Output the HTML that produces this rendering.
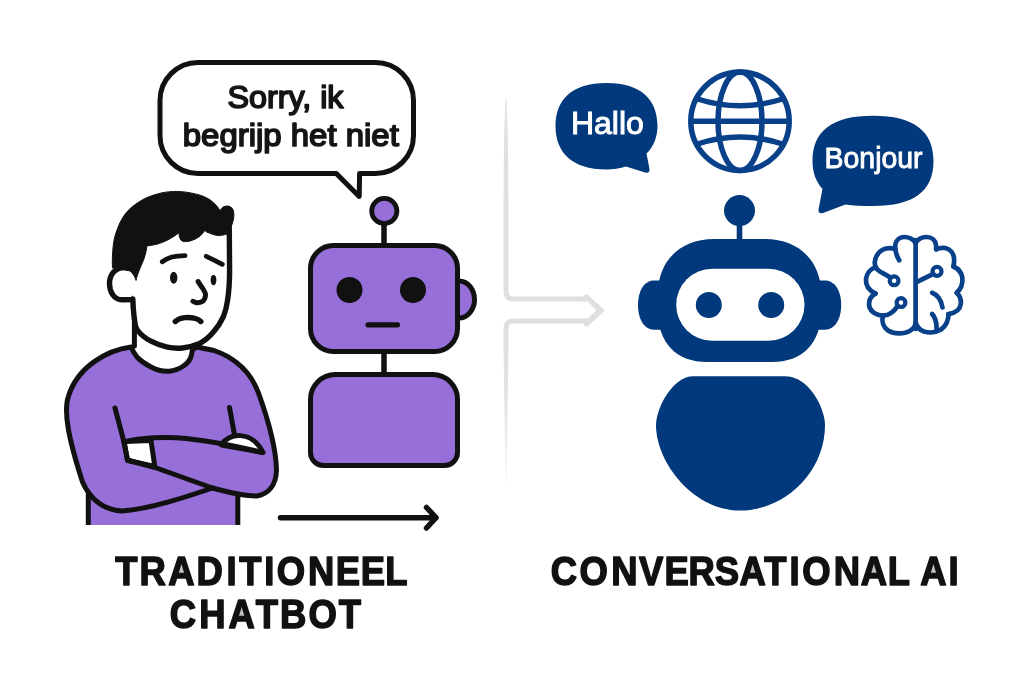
<!DOCTYPE html>
<html lang="nl">
<head>
<meta charset="utf-8">
<title>Traditioneel chatbot vs Conversational AI</title>
<style>
  html, body { margin: 0; padding: 0; background: #ffffff; }
  body { width: 1024px; height: 683px; overflow: hidden; font-family: "Liberation Sans", sans-serif; }
  svg { display: block; will-change: transform; transform: translateZ(0); }
  text { font-family: "Liberation Sans", sans-serif; }
</style>
</head>
<body>
<svg width="1024" height="683" viewBox="0 0 1024 683">
  <defs>
    <linearGradient id="divtop" gradientUnits="userSpaceOnUse" x1="0" y1="99" x2="0" y2="220">
      <stop offset="0" stop-color="#e6e6e6"/>
      <stop offset="0.5" stop-color="#dfdfdf"/>
      <stop offset="1" stop-color="#dedfdf"/>
    </linearGradient>
    <linearGradient id="divbot" gradientUnits="userSpaceOnUse" x1="0" y1="345" x2="0" y2="484">
      <stop offset="0" stop-color="#dedfdf"/>
      <stop offset="0.35" stop-color="#e2e2e2"/>
      <stop offset="1" stop-color="#f6f6f6"/>
    </linearGradient>
  </defs>
  <rect x="0" y="0" width="1024" height="683" fill="#ffffff"/>

  <!-- ===== central divider with arrow ===== -->
  <g id="divider">
    <path d="M505.400 99 L506.400 99 L507.700 127 L508.300 170 L508.500 220 H503.500 L503.700 170 L504.300 127 Z" fill="url(#divtop)"/>
    <path d="M503.500 345 H508.500 L506.600 484 H505.600 Z" fill="url(#divbot)"/>
    <path d="M506 220 V291.500 Q506 299 513.500 299 H586" fill="none" stroke="#dedfdf" stroke-width="5" stroke-linejoin="round" stroke-linecap="butt"/>
    <path d="M506 345 V328.500 Q506 321 513.500 321 H586" fill="none" stroke="#dedfdf" stroke-width="5" stroke-linejoin="round" stroke-linecap="butt"/>
    <path d="M583 296.500 L585 294.700 Q586.500 293.800 588.300 295 L604.800 310.600 L588.300 326 Q586.500 327 585 326 L583 323.500 V318.500 H588.100 L596.300 310.600 L588.100 301.500 H583 Z" fill="#dedfdf"/>
  </g>

  <!-- ===== LEFT: speech bubble ===== -->
  <g id="bubble-left">
    <path d="M198 62.500 H375.500 A38 38 0 0 1 413.500 100.500 V135.500 A38 38 0 0 1 375.500 173.500 H359.600 L359.200 196.500 L336.300 173.500 H198 A38 38 0 0 1 160 135.500 V100.500 A38 38 0 0 1 198 62.500 Z"
          fill="#ffffff" stroke="#111111" stroke-width="5" stroke-linejoin="round"/>
    <text x="285.500" y="108" text-anchor="middle" font-size="32" fill="#151515" stroke="#151515" stroke-width="1.7" stroke-linejoin="round" textLength="116" lengthAdjust="spacingAndGlyphs">Sorry, ik</text>
    <text x="290.800" y="145.700" text-anchor="middle" font-size="32" fill="#151515" stroke="#151515" stroke-width="1.7" stroke-linejoin="round" textLength="216" lengthAdjust="spacingAndGlyphs">begrijp het niet</text>
  </g>

  <!-- ===== LEFT: man ===== -->
  <g id="man" stroke-linecap="round" stroke-linejoin="round">
    <!-- torso -->
    <path d="M88.300 525 V400 H237.800 V525" fill="#976fd9" stroke="#111111" stroke-width="5" stroke-linecap="butt"/>
    <!-- neck -->
    <path d="M134 318 L133 348 L160 372 L195 350 L208 335 Z" fill="#ffffff" stroke="none"/>
    <path d="M134.400 314 V346" fill="none" stroke="#111111" stroke-width="5"/>
    <!-- shoulders + arms silhouette -->
    <path d="M131 347
             C108 350 78 366 68.500 396
             C63 412 69 440 82.500 482
             C92 503 106 510 122 511
             C150 509 186 497 212.500 488
             C224 491 240 496 257 496
             C268 494 276 486 276.500 470
             C276 450 269 422 258.500 393
             C251 373 236 358 214 350.500
             L197 347
             L192.500 349.500
             C192 353 191.500 355.500 190.500 358
             C189 361.500 186.500 364 183.500 366
             C179 369 174 370.800 169 371.200
             C163 371.500 156.500 370 151 367
             C145.500 364 140.500 361 137 357
             C134.500 354 132.800 351 131 347 Z"
          fill="#976fd9" stroke="#111111" stroke-width="5"/>
    <!-- right hand (viewer right) -->
    <path d="M221.500 445 C228 432.500 252 430 263 452.500 Z" fill="#ffffff" stroke="#111111" stroke-width="5"/>
    <!-- left hand (viewer left) -->
    <path d="M124 441.500 L151 440.500 L154.800 466.500 L127.500 460.500 Z" fill="#ffffff" stroke="#111111" stroke-width="5"/>
    <!-- arm lines -->
    <path d="M115 408 L124 442 L127.500 460 L155 467.500 L212.500 488" fill="none" stroke="#111111" stroke-width="5"/>
    <path d="M124 442 C140 438 165 436 186 438.500 C210 441 240 447 262.500 452.500" fill="none" stroke="#111111" stroke-width="5"/>
    <path d="M229.500 407.500 L234.500 435" fill="none" stroke="#111111" stroke-width="5"/>

    <!-- ear -->
    <path d="M134 299.500 L122 299.800 C114 299.500 109.500 292 109.500 283.500 C109.500 275 115 267.500 124 267.500 L136 270 L136 290 Z" fill="#ffffff" stroke="#111111" stroke-width="5.400"/>
    <!-- face -->
    <path d="M132.800 299 L135.500 326 C141 337 158 348 180 348.200 C200 347.500 218 335 225 308 L229 281 L230 231 L228 205 L180 195 L125 230 L128 270 Z" fill="#ffffff" stroke="none"/>
    <path d="M132.800 299 C133 304 133.300 309 133.800 314 C134.300 318.500 134.800 322.500 135.500 326 C136 327.500 136.600 328.800 137.300 330 C141 335 145.500 338.500 151 341.200 C156 343.800 161.500 346 167.400 347.200 C172.500 348.200 177.500 348.500 182.500 348 C188 347.500 193.500 346.200 198.900 343.800 C204.500 341 209.500 337 213.900 331.400 C217.800 327 221 322 223.500 316.400 C225.500 311.500 226.800 306 227.600 300 C228.700 293 229.500 282.500 229.600 272 C229.500 258 229.400 246 229.300 230" fill="none" stroke="#111111" stroke-width="5.400"/>
    <!-- hair -->
    <path d="M136 280
             C138 272 142 264 143.900 259
             C145.500 254 146.500 250 146.900 245.900
             C151 245.500 155 244.800 158.600 243.700
             C163 242.300 167 240.500 170.300 238.600
             C173.500 236.700 176.500 234.500 179.100 232.700
             C179 235 179.300 236.500 179.800 237.900
             C180.500 240 182 241.300 183.500 241.500
             C186 241.800 188.500 241.500 190.800 240.800
             C194 239.800 197 238.300 199.600 236.400
             C201.500 235 203.300 232.500 204.700 230.500
             C205.800 231.500 207 232.200 208.400 232.700
             C211 233.800 214 235 217.200 235.400
             C220 235.700 223 235.200 226 234.200
             L230.500 233.500
             L231.600 225.400
             C232.800 222 233.700 219.500 233.800 216.600
             C234 213.500 233.700 211 232.800 209.300
             C231.700 207.500 230 206.300 228.200 206.100
             C226 205.900 224.300 206.300 223 207.100
             C221.800 208 221 209.300 220.100 210.800
             C219.300 209.300 218.300 207.800 217.200 206.400
             C215 203.800 212.500 201.700 209.900 199.800
             C205.500 196.800 200.500 195 195.200 193.900
             C189 192.300 182.500 191.500 176.200 191.400
             C171 191.400 166 192 161.500 192.900
             C156.500 194 151.500 195.600 146.900 197.600
             C140.500 200.500 134.500 204.500 129.300 209.300
             C124.500 214 120.500 220.500 117.600 228.300
             C115.300 234 113.800 240 113.200 245.900
             C112.500 253 112 261 112.500 267.900
             C115 267.600 117 267.600 119 267.900
             C123 268.400 126.500 269.300 129.300 270.800
             C132 272.300 134 275 136 280 Z"
          fill="#111111" stroke="#111111" stroke-width="1"/>
    <!-- eyebrows -->
    <path d="M162.300 261.700 C165.500 259.500 168.500 258 171.800 257 C176 256 180.500 255.700 185 255.600" fill="none" stroke="#111111" stroke-width="4.800"/>
    <path d="M206.300 256.300 C211 258.500 217 261.500 222.300 264.300" fill="none" stroke="#111111" stroke-width="4.800"/>
    <!-- eyes -->
    <ellipse cx="173.700" cy="277.800" rx="3.700" ry="6" fill="#111111"/>
    <ellipse cx="213.500" cy="280" rx="2.900" ry="5.200" fill="#111111"/>
    <!-- nose -->
    <path d="M198.100 281.500 C199.500 284 201 286 202.500 288.100 C204.500 291 205.800 293 205.500 295.400 C205.300 298 204.500 300 202.500 301.300 C200.500 302.500 198.500 302.800 196.700 302.700 C195.300 302.500 194 302 193 301.300" fill="none" stroke="#111111" stroke-width="5"/>
    <!-- mouth -->
    <path d="M175.300 321.500 C177.500 319.300 181 318 185 317.600 C189 317.400 192.500 317.700 195.500 318.500 C198 319.200 199.800 320.200 200.800 321.500" fill="none" stroke="#111111" stroke-width="5.400"/>
  </g>

  <!-- ===== LEFT: purple robot ===== -->
  <g id="robot-left">
    <ellipse cx="459" cy="299.500" rx="15.500" ry="18.500" fill="#976fd9" stroke="#111111" stroke-width="5"/>
    <path d="M384 224 V245" stroke="#111111" stroke-width="5.500" fill="none"/>
    <circle cx="384.300" cy="211" r="12.600" fill="#976fd9" stroke="#111111" stroke-width="4.800"/>
    <rect x="310.500" y="245.500" width="147" height="106" rx="23" ry="23" fill="#976fd9" stroke="#111111" stroke-width="5"/>
    <circle cx="349.500" cy="290" r="13" fill="#111111"/>
    <circle cx="413" cy="290" r="13" fill="#111111"/>
    <path d="M368 324.800 H397.500" stroke="#111111" stroke-width="5.200" stroke-linecap="round" fill="none"/>
    <path d="M384 354 V372" stroke="#111111" stroke-width="5.500" fill="none"/>
    <path d="M335.500 374.500 H432.500 A25 25 0 0 1 457.500 399.500 V452.500 A13 13 0 0 1 444.500 465.500 H323.500 A13 13 0 0 1 310.500 452.500 V399.500 A25 25 0 0 1 335.500 374.500 Z"
          fill="#976fd9" stroke="#111111" stroke-width="5"/>
  </g>

  <!-- ===== LEFT: arrow ===== -->
  <g id="arrow-left" fill="none" stroke="#111111" stroke-width="5.500" stroke-linecap="round" stroke-linejoin="round">
    <path d="M280.500 517.700 H435.500"/>
    <path d="M426.500 507.500 L436 517.700 L426.500 528"/>
  </g>

  <!-- ===== labels ===== -->
  <!-- grey counters of the letter A (as in the artwork) -->
  <g id="a-counters">
    <polygon points="181.4,560.4 177.2,573.6 185.5,573.6" fill="#c2c2c2"/>
    <polygon points="241.7,603.4 237.5,616.6 245.8,616.6" fill="#c2c2c2"/>
    <polygon points="752.6,560.4 748.4,573.6 756.7,573.6" fill="#c2c2c2"/>
    <polygon points="873.8,560.4 869.7,573.6 878.0,573.6" fill="#c2c2c2"/>
    <polygon points="933.4,560.4 929.2,573.6 937.5,573.6" fill="#c2c2c2"/>
  </g>

  <g id="labels" font-weight="bold" font-size="40.500" fill="#111111" stroke="#111111" stroke-width="1.500" stroke-linejoin="round" transform="scale(0.9 1)">
    <text y="584.600" x="128.2 155.1 186.9 218.4 251.7 265.9 293.6 307.5 342.2 373.1 400.7 428.2">TRADITIONEEL</text>
    <text y="627.600" x="188.6 221.5 253.9 284.3 311.2 342.7 376.4">CHATBOT</text>
    <text y="584.600" x="611.9 643.9 679.3 710.0 738.4 764.9 794.1 821.6 849.3 877.3 891.5 926.4 956.3 986.5 1011.0 1022.5 1053.9">CONVERSATIONAL AI</text>
  </g>

  <!-- ===== RIGHT: Hallo bubble ===== -->
  <g id="bubble-hallo">
    <path d="M606.500 83 C641.500 83 657.500 100 657.500 126 C657.500 137 653.500 147 646.500 153.500 L649.500 169 C650 172 648 173.500 645 172.500 L626 166.500 C620 168.500 613 169.500 606.500 169.500 C571.500 169.500 555.500 152 555.500 126 C555.500 100 571.500 83 606.500 83 Z" fill="#01397c"/>
    <text x="607.400" y="134.300" text-anchor="middle" font-size="31.500" fill="#ffffff" stroke="#ffffff" stroke-width="1" textLength="73" lengthAdjust="spacingAndGlyphs">Hallo</text>
  </g>

  <!-- ===== RIGHT: globe ===== -->
  <g id="globe" fill="none" stroke="#08408a" stroke-width="5.500">
    <circle cx="740" cy="121.300" r="49.200"/>
    <ellipse cx="740" cy="121.300" rx="22" ry="49.200"/>
    <path d="M691 121.300 H789"/>
    <path d="M697.500 99 Q740 112.500 782.500 99"/>
    <path d="M697.500 144 Q740 130 782.500 144"/>
  </g>

  <!-- ===== RIGHT: Bonjour bubble ===== -->
  <g id="bubble-bonjour">
    <path d="M873 115.700 C914 115.700 933.500 131 933.500 161 C933.500 191 914 206 873 206 C862 206 853 205.500 845.500 204.500 L823 213 C820 214 818 212.500 818.500 209.500 L822.500 189 C815.500 181 812.500 172 812.500 161 C812.500 131 832 115.700 873 115.700 Z" fill="#01397c"/>
    <text x="873.600" y="168.200" text-anchor="middle" font-size="29" fill="#ffffff" stroke="#ffffff" stroke-width="0.900" textLength="98" lengthAdjust="spacingAndGlyphs">Bonjour</text>
  </g>

  <!-- ===== RIGHT: brain ===== -->
  <g id="brain" fill="none" stroke="#08408a" stroke-width="4.700" stroke-linecap="round" stroke-linejoin="round">
    <path d="M915.600 240 V329"/>
    <!-- left hemisphere -->
    <path d="M915.600 243 C913 239 909 237 904.300 237 C899 237 895.200 241 895.200 247 C895.200 252 897 256.500 899.200 260.200"/>
    <path d="M895.200 248.700 C891 248 888 248.200 886.200 248.500 C880 250 875.600 255 874.800 262 C874.500 266 876 269 879.700 271.400 C883 273.500 887 275 890.500 277.800"/>
    <path d="M875.200 267.500 C870 269 866.600 274 866 279 C865.500 285 869 290.500 875.600 293.600"/>
    <path d="M875.600 293.600 C871 296 869 300 869 304 C869 310 874 315 883 315.700 C890 315.500 894.500 311 897.800 305.800"/>
    <path d="M883 315.700 C881.500 321 883 327 888 330.500 C893 333.500 900 334 906 332.500 C911 331 915 327.500 915.700 323"/>
    <circle cx="894.100" cy="280.800" r="4.400" stroke-width="4.200"/>
    <circle cx="901" cy="302.600" r="4.400" stroke-width="4.200"/>
    <!-- right hemisphere -->
    <path d="M915.600 243 C918 239 922 237 926.400 237 C932 237 935.400 240.500 936 245 C936.200 246.500 936.200 248 936.200 249.300"/>
    <path d="M936.200 249.300 C939 248 942 247.600 945.200 248 C950 249 953.400 253 954 258 C954.300 261 954 264 953.400 266.500"/>
    <path d="M953.400 266.500 C958 268.500 961.600 272.500 962.300 277.500 C963 283.500 961 289 956.700 292.800"/>
    <path d="M956.700 292.800 C960 296 961.300 300 960.800 304 C960 309.500 955 313 948.500 314.100"/>
    <path d="M948.500 314.100 C948.500 320 946 326 941 329.500 C936 332.500 929 333 924 331.500 C919.500 330 916.500 326.500 915.700 322"/>
    <circle cx="937" cy="271.400" r="4.500" stroke-width="4.200"/>
    <path d="M933.300 273.800 L916 282.300"/>
    <path d="M932.100 292.800 C937 294.500 941.500 300 942.500 307.500"/>
    <path d="M932.100 314 C935 317 936.600 322 936.600 329"/>
  </g>

  <!-- ===== RIGHT: blue robot ===== -->
  <g id="robot-right" fill="#01397c">
    <circle cx="739.500" cy="210.600" r="15.500"/>
    <rect x="736.700" y="215" width="5.600" height="30"/>
    <!-- ears -->
    <path d="M664 280.400 H654 C644 280.400 638 291 638 305 C638 319 644 329.700 654 329.700 H664 Z"/>
    <path d="M815 280.400 H825 C835 280.400 841.200 291 841.200 305 C841.200 319 835 329.700 825 329.700 H815 Z"/>
    <!-- head -->
    <path d="M714 239 H765 C800 239 821.500 262 821.500 296 V308 C821.500 344 802 362 772 362 H707 C677 362 657.500 344 657.500 308 V296 C657.500 262 679 239 714 239 Z"/>
    <rect x="676.200" y="268.700" width="128.300" height="72" rx="36" ry="36" fill="#ffffff"/>
    <circle cx="708.800" cy="305" r="13"/>
    <circle cx="771.200" cy="305" r="13"/>
    <!-- body -->
    <path d="M692.500 376.300 H785 C800 376.500 812 388 820 405 C823 412 825 419 825 425 C825 474 782.500 510.600 740.500 510.600 C692.500 510.600 656 462 656 425 C656 419 658 412 661 405 C669 388 681 376.500 692.500 376.300 Z"/>
  </g>
</svg>
</body>
</html>
